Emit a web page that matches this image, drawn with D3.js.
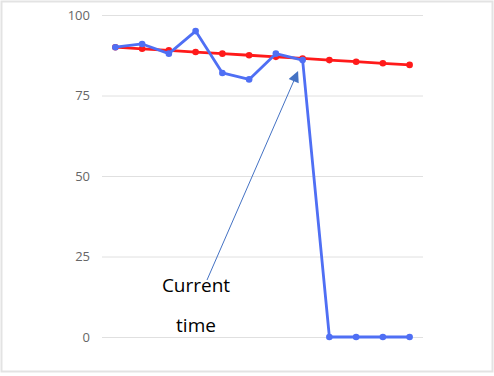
<!DOCTYPE html>
<html>
<head>
<meta charset="utf-8">
<script src="https://cdn.jsdelivr.net/npm/d3@7"></script>
<style>
  html, body { margin: 0; padding: 0; background: #fff; }
  svg { display: block; }
</style>
</head>
<body>
<svg id="chart" width="494" height="376"></svg>
<script>
// categories (time steps) and series values
const steps = [1, 2, 3, 4, 5, 6, 7, 8, 9, 10, 11, 12];
const actual = [90, 91, 88, 95, 82, 80, 88, 86, 0, 0, 0, 0];
const trend = [90, 89.5, 89, 88.5, 88, 87.5, 87, 86.5, 86, 85.5, 85, 84.5];
const yTicks = [0, 25, 50, 75, 100];
const noteLines = ['Current', 'time'];
const noteStep = 8; // arrow points at this step of the actual series

const svg = d3.select('#chart');
const width = 494, height = 376;
const margin = { top: 15, right: 71, bottom: 39, left: 102 };

// outer frame
svg.append('rect')
  .attr('x', 1.5).attr('y', 1.5)
  .attr('width', width - 3).attr('height', height - 6)
  .attr('fill', '#fff')
  .attr('stroke', '#e3e3e3')
  .attr('stroke-width', 2);

const x = d3.scaleBand()
  .domain(steps)
  .range([margin.left, width - margin.right]);

const y = d3.scaleLinear()
  .domain([0, 100])
  .range([height - margin.bottom, margin.top]);

// gridlines + labels
const yAxis = svg.append('g')
  .attr('transform', `translate(${margin.left},0)`)
  .call(d3.axisLeft(y).tickValues(yTicks).tickSize(-(width - margin.left - margin.right)).tickPadding(12));

yAxis.select('.domain').remove();
yAxis.selectAll('.tick line').attr('stroke', '#e0e0e0').attr('stroke-width', 1);
yAxis.selectAll('.tick text')
  .attr('fill', '#666')
  .attr('font-family', '"Open Sans", sans-serif')
  .attr('font-size', 13);

const cx = d => x(d) + x.bandwidth() / 2;

function drawSeries(values, color) {
  const line = d3.line()
    .x((d, i) => cx(steps[i]))
    .y(d => y(d));

  svg.append('path')
    .datum(values)
    .attr('d', line)
    .attr('fill', 'none')
    .attr('stroke', color)
    .attr('stroke-width', 2.8)
    .attr('stroke-linejoin', 'round');

  svg.append('g')
    .selectAll('circle')
    .data(values)
    .join('circle')
    .attr('cx', (d, i) => cx(steps[i]))
    .attr('cy', d => y(d))
    .attr('r', 3.3)
    .attr('fill', color);
}

drawSeries(trend, '#ff1a1a');
drawSeries(actual, '#4f6ff4');

// annotation arrow
const tip = { x: cx(noteStep) - 5, y: y(actual[noteStep - 1]) + 12 };
const tail = { x: 207, y: 280 };

svg.append('defs').append('marker')
  .attr('id', 'head')
  .attr('viewBox', '0 0 10 10')
  .attr('refX', 9).attr('refY', 5)
  .attr('markerWidth', 14).attr('markerHeight', 11)
  .attr('markerUnits', 'userSpaceOnUse')
  .attr('orient', 'auto')
  .append('path')
  .attr('d', 'M0,0L10,5L0,10Z')
  .attr('fill', '#4472c4');

svg.append('line')
  .attr('x1', tail.x).attr('y1', tail.y)
  .attr('x2', tip.x).attr('y2', tip.y)
  .attr('stroke', '#4472c4')
  .attr('stroke-width', 1)
  .attr('marker-end', 'url(#head)');

svg.append('g')
  .selectAll('text')
  .data(noteLines)
  .join('text')
  .attr('x', 196)
  .attr('y', (d, i) => 292 + i * 40)
  .attr('text-anchor', 'middle')
  .attr('font-family', '"Open Sans", sans-serif')
  .attr('font-size', 19)
  .attr('fill', '#000')
  .text(d => d);
</script>
</body>
</html>
